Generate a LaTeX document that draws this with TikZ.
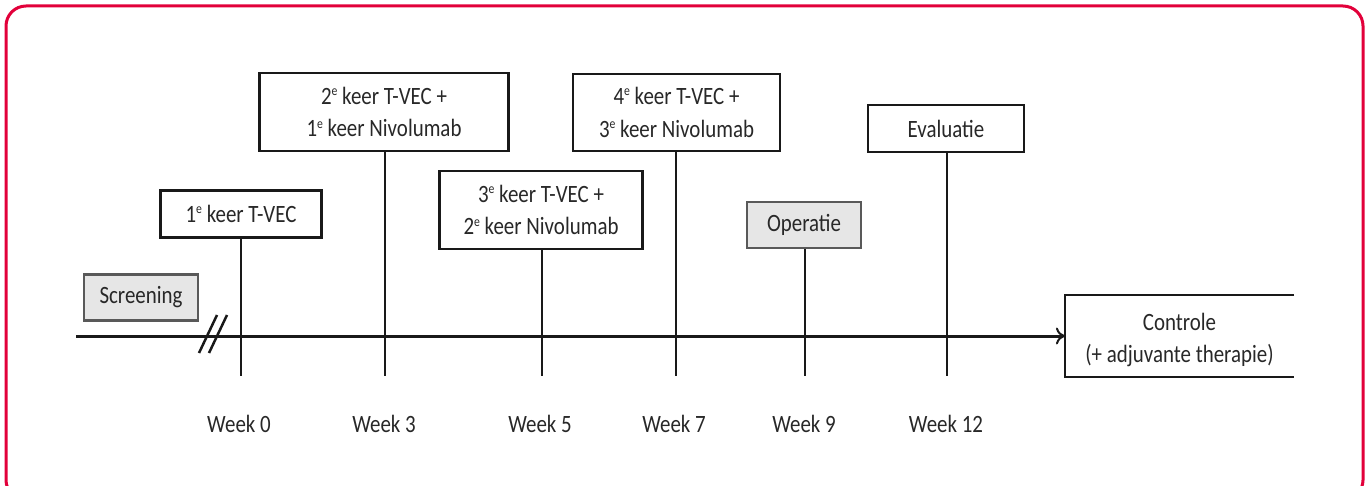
\documentclass[tikz,border=0pt]{standalone}
\usepackage{fontspec}
\setmainfont{Carlito}[FakeStretch=0.84]
\usetikzlibrary{arrows.meta}
\definecolor{framered}{RGB}{226,0,58}
\definecolor{boxgray}{RGB}{230,230,230}
\definecolor{txt}{RGB}{40,40,40}
\newcommand{\supE}{\raisebox{0.36em}{\fontsize{14}{14}\selectfont e}}
\tikzset{
  evbox/.style={draw=black!90, line width=2.2bp, fill=white, align=center, inner sep=0pt, font=\fontsize{25}{33}\selectfont, text=txt},
  graybox/.style={evbox, fill=boxgray, draw=black!65},
  tick/.style={line width=2.2bp, draw=black!90},
  weeklbl/.style={font=\fontsize{25}{30}\selectfont, text=txt, inner sep=0pt},
}
\begin{document}
\begin{tikzpicture}[x=1bp,y=-1bp]
\useasboundingbox (0,0) rectangle (1369,486);
\draw[framered, line width=3bp, rounded corners=20bp] (6,6) rectangle (1363,500);

\node[graybox, minimum width=114bp, minimum height=46bp] (scr) at (141,297.5) {Screening};
\node[evbox, minimum width=161bp, minimum height=47bp] (b0) at (241,214) {1\supE{} keer T-VEC};
\node[evbox, minimum width=249bp, minimum height=78bp] (b3) at (384,112) {2\supE{} keer T-VEC +\\1\supE{} keer Nivolumab};
\node[evbox, minimum width=203bp, minimum height=78bp] (b5) at (541,210) {3\supE{} keer T-VEC +\\2\supE{} keer Nivolumab};
\node[evbox, minimum width=207bp, minimum height=77bp] (b7) at (676.5,112.5) {4\supE{} keer T-VEC +\\3\supE{} keer Nivolumab};
\node[graybox, minimum width=114bp, minimum height=46bp] (b9) at (804,225) {Operatie};
\node[evbox, minimum width=156bp, minimum height=47bp] (b12) at (946,128.5) {Evaluatie};
\node[evbox, draw=none, fill=none, minimum width=227bp, minimum height=80bp] (ctl) at (1179.5,336) {};
\node[evbox, draw=none, fill=none] (ctltxt) at (1179.5,340) {Controle\\(+ adjuvante therapie)};
\draw[line width=2.2bp, black!90] (ctl.north east) -- (ctl.north west) -- (ctl.south west) -- (ctl.south east);

\coordinate (t0) at (241,376);
\coordinate (t3) at (385,376);
\coordinate (t5) at (542,376);
\coordinate (t7) at (676,376);
\coordinate (t9) at (805,376);
\coordinate (t12) at (947,376);
\draw[tick] (b0.south -| t0) -- (t0);
\draw[tick] (b3.south -| t3) -- (t3);
\draw[tick] (b5.south -| t5) -- (t5);
\draw[tick] (b7.south -| t7) -- (t7);
\draw[tick] (b9.south -| t9) -- (t9);
\draw[tick] (b12.south -| t12) -- (t12);

\coordinate (ax0) at (76,336);
\draw[line width=3bp, black!90, -{To[length=9bp,width=17bp,line width=2bp]}] (ax0) -- (ctl.west);
\coordinate (s1a) at (199,353); \coordinate (s1b) at (217,315);
\coordinate (s2a) at (209,353); \coordinate (s2b) at (227,315);
\draw[line width=2.5bp, black!90] (s1a) -- (s1b);
\draw[line width=2.5bp, black!90] (s2a) -- (s2b);

\node[weeklbl] (w0) at (239,424) {Week 0};
\node[weeklbl] (w3) at (384,424) {Week 3};
\node[weeklbl] (w5) at (540,424) {Week 5};
\node[weeklbl] (w7) at (674,424) {Week 7};
\node[weeklbl] (w9) at (804,424) {Week 9};
\node[weeklbl] (w12) at (946,424) {Week 12};
\end{tikzpicture}
\end{document}
